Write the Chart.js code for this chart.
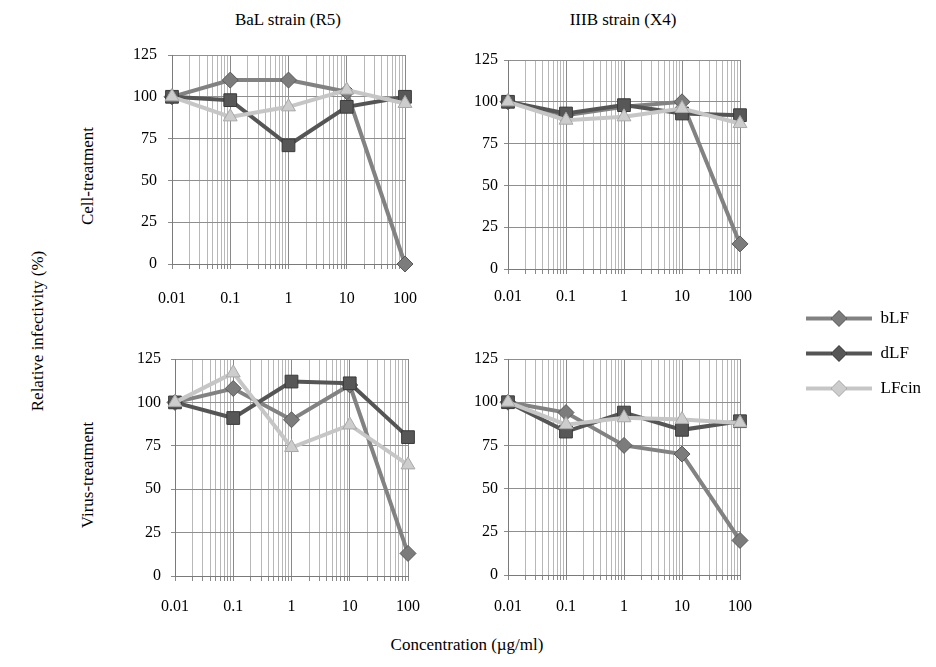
<!DOCTYPE html>
<html><head><meta charset="utf-8">
<script src="https://cdn.jsdelivr.net/npm/chart.js@4.4.1/dist/chart.umd.min.js"></script>
<style>
html,body{margin:0;padding:0;background:#fff;overflow:hidden;}
body{width:936px;height:667px;position:relative;font-family:"Liberation Serif","Times New Roman","DejaVu Serif",serif;color:#000;}
.box{position:absolute;}
.lbl{position:absolute;font-size:17px;white-space:nowrap;line-height:1;}
.rot{transform:translate(-50%,-50%) rotate(-90deg);}
.ctr{transform:translate(-50%,-50%);}
</style></head><body>
<div class="lbl ctr" style="left:288px;top:19px">BaL strain (R5)</div>
<div class="lbl ctr" style="left:623px;top:19px">IIIB strain (X4)</div>
<div class="lbl rot" style="left:87px;top:176px">Cell-treatment</div>
<div class="lbl rot" style="left:87px;top:475px">Virus-treatment</div>
<div class="lbl rot" style="left:37px;top:331px">Relative infectivity (%)</div>
<div class="lbl ctr" style="left:467px;top:644px">Concentration (µg/ml)</div>

<div class="box" style="left:0px;top:0px;width:440px;height:310px"><canvas id="cTL"></canvas></div>
<div class="box" style="left:440px;top:0px;width:330px;height:320px"><canvas id="cTR"></canvas></div>
<div class="box" style="left:0px;top:320px;width:440px;height:330px"><canvas id="cBL"></canvas></div>
<div class="box" style="left:440px;top:320px;width:330px;height:330px"><canvas id="cBR"></canvas></div>
<div class="box" style="left:788px;top:292px;width:148px;height:150px"><canvas id="cLeg"></canvas></div>

<script>
// ---- data ----
const concentrations = [0.01, 0.1, 1, 10, 100];
const xTickLabels = ['0.01', '0.1', '1', '10', '100'];
const yTickValues = [0, 25, 50, 75, 100, 125];
const seriesNames = ['bLF', 'dLF', 'LFcin'];

const cellBaL_bLF   = [100, 110, 110, 103, 0];
const cellBaL_dLF   = [100, 98, 71, 94, 100];
const cellBaL_LFcin = [100, 88, 94, 104, 96];

const cellIIIB_bLF   = [100, 92, 97, 100, 15];
const cellIIIB_dLF   = [100, 93, 98, 93, 92];
const cellIIIB_LFcin = [100, 89, 91, 96, 87];

const virusBaL_bLF   = [100, 108, 90, 110, 13];
const virusBaL_dLF   = [100, 91, 112, 111, 80];
const virusBaL_LFcin = [100, 117, 74, 87, 64];

const virusIIIB_bLF   = [100, 94, 75, 70, 20];
const virusIIIB_dLF   = [100, 83, 94, 84, 89];
const virusIIIB_LFcin = [100, 87, 91, 90, 88];

// ---- styling ----
const FONT = '"Liberation Serif", "Times New Roman", "DejaVu Serif", serif';
Chart.defaults.font.family = FONT;
Chart.defaults.color = '#000';
const styles = [
  {line: '#828282', fill: '#7c7c7c', border: '#5a5a5a', shape: 'rectRot', r: 8, order: 3},
  {line: '#555555', fill: '#575757', border: '#3a3a3a', shape: 'rect', r: 9, order: 2},
  {line: '#c6c6c6', fill: '#cdcdcd', border: '#a8a8a8', shape: 'triangle', r: 8, order: 1}
];

// gridline positions for log axis (1..9 per decade)
const xGridValues = [];
for (let d = 0; d < concentrations.length - 1; d++) {
  for (let k = 1; k <= 9; k++) xGridValues.push(+(k * concentrations[d]).toPrecision(10));
}
xGridValues.push(concentrations[concentrations.length - 1]);

function isDecade(v) {
  const l = Math.log10(v);
  return Math.abs(l - Math.round(l)) < 1e-9;
}

function makeDatasets(seriesList) {
  return seriesList.map((vals, i) => ({
    label: seriesNames[i],
    data: concentrations.map((c, j) => ({x: c, y: vals[j]})),
    borderColor: styles[i].line,
    backgroundColor: styles[i].fill,
    pointBackgroundColor: styles[i].fill,
    pointBorderColor: styles[i].border,
    pointBorderWidth: 1,
    pointStyle: styles[i].shape,
    pointRadius: styles[i].r,
    pointHoverRadius: styles[i].r,
    borderWidth: 4,
    tension: 0,
    clip: false,
    order: styles[i].order
  }));
}

function makeChart(id, seriesList, g) {
  return new Chart(document.getElementById(id), {
    type: 'line',
    data: {datasets: makeDatasets(seriesList)},
    options: {
      responsive: true,
      maintainAspectRatio: false,
      animation: false,
      events: [],
      layout: {padding: {left: g.padL, right: g.padR, top: g.padT, bottom: g.padB}},
      plugins: {legend: {display: false}, tooltip: {enabled: false}, title: {display: false}},
      scales: {
        x: {
          type: 'logarithmic',
          min: concentrations[0],
          max: concentrations[concentrations.length - 1],
          afterBuildTicks: (s) => { s.ticks = xGridValues.map(v => ({value: v})); },
          afterFit: (s) => { s.height = g.xh; },
          ticks: {
            autoSkip: false, maxRotation: 0, padding: g.xPad,
            font: {size: 16},
            callback: (v) => {
              const i = concentrations.findIndex(c => Math.abs(c - v) < 1e-9);
              return i >= 0 ? xTickLabels[i] : '';
            }
          },
          grid: {
            color: (ctx) => (ctx.tick && isDecade(ctx.tick.value)) ? '#8a8a8a' : '#b8b8b8',
            tickColor: '#8a8a8a',
            tickLength: 5,
            lineWidth: 1
          },
          border: {display: true, color: '#7a7a7a', width: 1}
        },
        y: {
          min: 0, max: 125,
          afterBuildTicks: (s) => { s.ticks = yTickValues.map(v => ({value: v})); },
          afterFit: (s) => { s.width = g.yw; },
          ticks: {padding: g.yPad, font: {size: 16}},
          grid: {color: '#8f8f8f', tickColor: '#8a8a8a', tickLength: 4, lineWidth: 1},
          border: {display: true, color: '#7a7a7a', width: 1}
        }
      }
    }
  });
}

makeChart('cTL', [cellBaL_bLF, cellBaL_dLF, cellBaL_LFcin],
  {padL: 80, yw: 92, padR: 35, padT: 55, padB: 6, xh: 40, xPad: 20, yPad: 11});
makeChart('cTR', [cellIIIB_bLF, cellIIIB_dLF, cellIIIB_LFcin],
  {padL: 20, yw: 48, padR: 30, padT: 60, padB: 11, xh: 40, xPad: 13, yPad: 6});
makeChart('cBL', [virusBaL_bLF, virusBaL_dLF, virusBaL_LFcin],
  {padL: 80, yw: 95, padR: 32, padT: 39, padB: 34, xh: 40, xPad: 16, yPad: 10});
makeChart('cBR', [virusIIIB_bLF, virusIIIB_dLF, virusIIIB_LFcin],
  {padL: 20, yw: 48, padR: 30, padT: 39, padB: 35, xh: 40, xPad: 17, yPad: 6});

// ---- legend (line + diamond icons, as in the reference) ----
function legendIcon(st) {
  const c = document.createElement('canvas');
  c.width = 66; c.height = 18;
  const x = c.getContext('2d');
  x.strokeStyle = st.line; x.lineWidth = 4;
  x.beginPath(); x.moveTo(0, 9); x.lineTo(66, 9); x.stroke();
  x.fillStyle = st.fill; x.strokeStyle = st.border; x.lineWidth = 1;
  x.beginPath(); x.moveTo(33, 1); x.lineTo(41, 9); x.lineTo(33, 17); x.lineTo(25, 9); x.closePath();
  x.fill(); x.stroke();
  return c;
}
const icons = styles.map(legendIcon);

new Chart(document.getElementById('cLeg'), {
  type: 'line',
  data: {datasets: seriesNames.map((n, i) => ({label: n, data: [], borderColor: styles[i].line}))},
  options: {
    responsive: true, maintainAspectRatio: false, animation: false, events: [],
    scales: {x: {display: false}, y: {display: false}},
    plugins: {
      tooltip: {enabled: false},
      legend: {
        display: true, position: 'left', align: 'start', maxWidth: 148,
        labels: {
          usePointStyle: true, pointStyleWidth: 66, boxHeight: 16, padding: 18,
          font: {size: 17}, color: '#000',
          generateLabels: (chart) => chart.data.datasets.map((ds, i) => ({
            text: ds.label, pointStyle: icons[i], fillStyle: styles[i].fill,
            strokeStyle: styles[i].line, lineWidth: 0, hidden: false, datasetIndex: i,
            fontColor: '#000', textAlign: 'left'
          }))
        }
      }
    }
  }
});
</script>
</body></html>
